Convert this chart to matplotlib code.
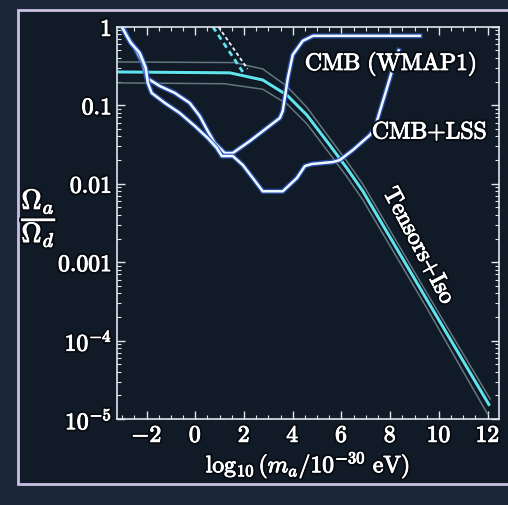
import matplotlib
matplotlib.use('Agg')
import matplotlib.pyplot as plt
import matplotlib.patheffects as pe
from matplotlib.patches import Rectangle
from matplotlib.ticker import MultipleLocator

plt.rcParams['mathtext.fontset'] = 'cm'
plt.rcParams['font.family'] = 'serif'
plt.rcParams['font.serif'] = ['DejaVu Serif']

# CMB (WMAP1) bound
wmap_x = [-2.98, -2.77, -2.48, -2.16, -1.99, -1.46, -0.84, -0.23, 0.18, 0.51, 0.80, 1.21, 1.54,
          2.24, 3.47, 3.59, 3.80, 4.00, 4.41, 4.83, 9.22]
wmap_y = [1.0, 0.724, 0.539, 0.347, 0.223, 0.176, 0.1435, 0.107, 0.073, 0.047, 0.033, 0.0246, 0.0246,
          0.035, 0.0688, 0.0846, 0.223, 0.439, 0.662, 0.767, 0.767]

# CMB+LSS bound
lss_x = [-3.02, -2.65, -2.28, -2.03, -1.95, -1.79, -1.25, -0.64, -0.02, 0.51, 0.88, 1.09, 1.54,
         1.95, 2.36, 2.77, 3.59, 4.17, 4.50, 4.78, 5.65, 5.93, 6.47, 7.17, 7.37, 7.58, 7.78,
         7.99, 8.19, 8.35]
lss_y = [1.0, 0.625, 0.466, 0.30, 0.193, 0.1435, 0.107, 0.0797, 0.0544, 0.0382, 0.0285, 0.0225, 0.0225,
         0.0173, 0.0118, 0.0080, 0.0080, 0.0118, 0.0168, 0.0178, 0.0189, 0.020, 0.0269, 0.0418, 0.0513,
         0.0846, 0.135, 0.223, 0.368, 0.50]

# Tensors+Iso curves
iso_x = [-3.22, 1.42, 2.77, 3.76, 4.58, 5.52, 6.22, 6.88, 9.47, 12.05]
iso_y = [0.266, 0.259, 0.21, 0.135, 0.075, 0.031, 0.0158, 0.0080, 3.46e-4, 1.53e-5]

iso_hi_x = [-3.22, 1.60, 2.77, 3.76, 4.58, 5.52, 6.22, 6.88, 9.47, 12.10]
iso_hi_y = [0.357, 0.350, 0.29, 0.175, 0.094, 0.038, 0.0193, 0.0098, 4.2e-4, 1.8e-5]

iso_lo_x = [-3.22, 1.20, 2.77, 3.76, 4.58, 5.52, 6.22, 6.88, 9.47, 12.00]
iso_lo_y = [0.193, 0.188, 0.16, 0.104, 0.058, 0.024, 0.0123, 0.0062, 2.7e-4, 1.15e-5]

# steep dashed pieces at the top
dash1_x = [0.72, 1.95]
dash1_y = [1.0, 0.266]
dash2_x = [0.95, 2.15]
dash2_y = [1.0, 0.29]

xticks = [-2, 0, 2, 4, 6, 8, 10, 12]
yticks = [1e-5, 1e-4, 1e-3, 1e-2, 0.1, 1]
ylabels = ['$10^{-5}$', '$10^{-4}$', '$0.001$', '$0.01$', '$0.1$', '$1$']

fig = plt.figure(figsize=(5.08, 5.06), dpi=100)
fig.patch.set_facecolor('#1b2637')
fig.patches.append(Rectangle((0.035, 0.042), 1.0, 0.936, transform=fig.transFigure,
                             facecolor='#111a27', edgecolor='#c9c0e3', lw=2, zorder=-10))

ax = fig.add_axes([0.230, 0.170, 0.752, 0.775])
ax.set_facecolor('#111a27')
ax.set_yscale('log')
ax.set_xlim(-3.22, 12.46)
ax.set_ylim(1e-5, 1)

glow = [pe.Stroke(linewidth=3.8, foreground='#2c58c4', alpha=0.75), pe.Normal()]
dark = [pe.Stroke(linewidth=3.5, foreground='#0a1018'), pe.Normal()]

ax.plot(iso_hi_x, iso_hi_y, color='#62767d', lw=1.1)
ax.plot(iso_lo_x, iso_lo_y, color='#62767d', lw=1.1)
ax.plot(iso_x, iso_y, color='#5fe4ee', lw=2.2, path_effects=dark)
ax.plot(dash1_x, dash1_y, color='#5fe4ee', lw=2, ls=(0, (2, 1.5)))
ax.plot(dash2_x, dash2_y, color='#e8f6ff', lw=1.3, ls=(0, (2, 1.5)))
ax.plot(wmap_x, wmap_y, color='#eef8ff', lw=1.8, path_effects=glow)
ax.plot(lss_x, lss_y, color='#eef8ff', lw=1.8, path_effects=glow)

# dark halo plus a thin white edge makes the glyphs look as heavy as on the slide
txt = [pe.withStroke(linewidth=3.5, foreground='#070b12'),
       pe.Stroke(linewidth=0.7, foreground='white'), pe.Normal()]
ax.text(4.5, 0.337, r'$\mathrm{CMB\ (WMAP1)}$', color='white', fontsize=17,
        ha='left', va='center', path_effects=txt)
ax.text(7.25, 0.0456, r'$\mathrm{CMB{+}LSS}$', color='white', fontsize=17,
        ha='left', va='center', path_effects=txt)
ax.text(9.18, 0.0016, r'$\mathrm{Tensors{+}Iso}$', color='white', fontsize=17,
        ha='center', va='center', rotation=-62, path_effects=txt)

ax.set_xticks(xticks)
ax.set_xticklabels(['$%d$' % t for t in xticks])
ax.set_yticks(yticks)
ax.set_yticklabels(ylabels)
ax.xaxis.set_minor_locator(MultipleLocator(0.5))
ax.tick_params(which='both', direction='in', top=True, right=True, colors='#dfe6f0',
               labelcolor='white', labelsize=17)
ax.tick_params(which='major', length=6, width=1)
ax.tick_params(which='minor', length=3, width=0.8)
for lab in ax.get_xticklabels() + ax.get_yticklabels():
    lab.set_path_effects(txt)
for s in ax.spines.values():
    s.set_color('#dfe6f0')
    s.set_linewidth(1.2)

ax.set_xlabel(r'$\log_{10}(m_a/10^{-30}\ \mathrm{eV})$', color='white', fontsize=17, labelpad=2,
              path_effects=txt)
fig.text(0.077, 0.568, r'$\dfrac{\Omega_a}{\Omega_d}$', color='white', fontsize=20,
         ha='center', va='center', path_effects=txt)

fig.savefig('out.png', dpi=100, facecolor=fig.get_facecolor())
